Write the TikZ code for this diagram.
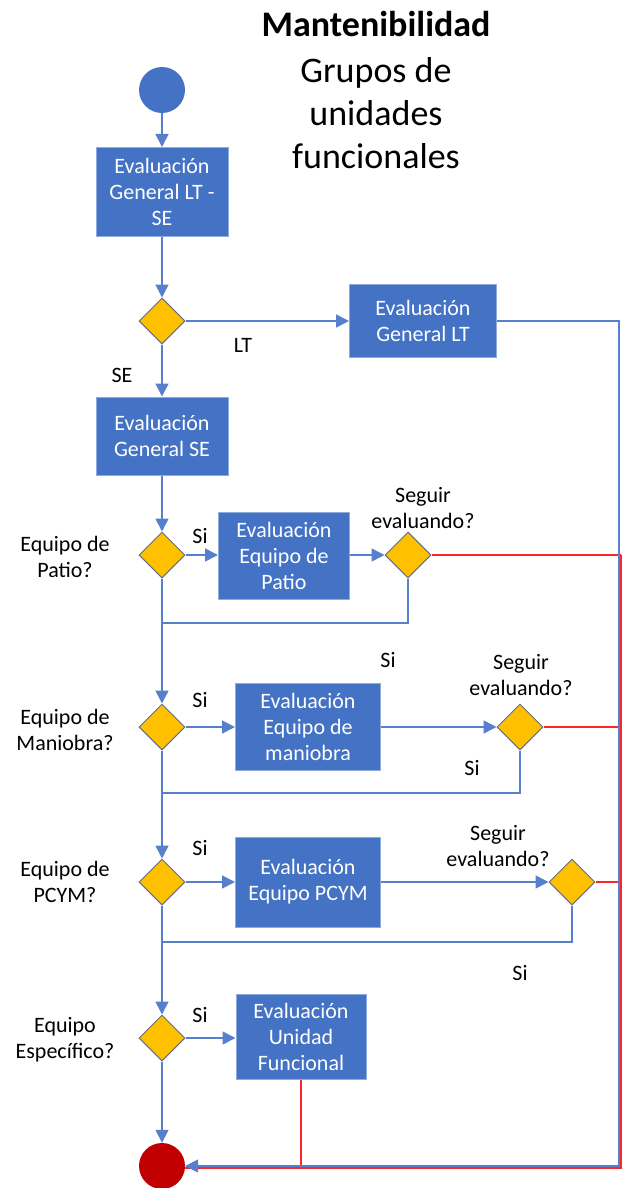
\documentclass[tikz,border=0pt]{standalone}
\usepackage{fontspec}
\setmainfont{Carlito}
\usetikzlibrary{shapes.geometric,arrows.meta}
\definecolor{boxblue}{RGB}{68,114,196}
\definecolor{lineblue}{RGB}{86,128,206}
\definecolor{dgold}{RGB}{255,192,0}
\definecolor{dedge}{RGB}{96,110,140}
\definecolor{endred}{RGB}{192,0,0}
\definecolor{backred}{RGB}{250,40,40}

\begin{document}
\begin{tikzpicture}[x=1pt,y=-1pt,
  evalbox/.style={rectangle,fill=boxblue,draw=boxblue!60!white,line width=1pt,
    text=white,align=center,inner sep=0pt,font=\fontsize{22}{26}\selectfont},
  decision/.style={diamond,aspect=1,fill=dgold,draw=dedge,line width=1pt,
    minimum width=46pt,minimum height=46pt,inner sep=0pt},
  startdot/.style={circle,fill=boxblue,minimum size=46pt,inner sep=0pt},
  enddot/.style={circle,fill=endred,minimum size=46pt,inner sep=0pt},
  lbl/.style={align=center,inner sep=0pt,font=\fontsize{22}{26}\selectfont},
  flow/.style={draw=lineblue,line width=1.6pt,-{Triangle[length=13pt,width=13pt]}},
  retline/.style={draw=lineblue,line width=1.6pt},
  back/.style={draw=backred,line width=1.3pt}]

\useasboundingbox (0,0) rectangle (622,1188);

\node (title) at (376,24) {\fontsize{36}{43}\selectfont\bfseries Mantenibilidad};
\node (sub) [align=center,inner sep=0pt,font=\fontsize{36}{43}\selectfont] at (376,113)
  {Grupos de\\unidades\\funcionales};

\node (start) [startdot] at (162,90) {};
\node (gen) [evalbox,minimum width=132pt,minimum height=89pt] at (162,192)
  {Evaluación\\General LT -\\SE};
\node (d1) [decision] at (162,321) {};
\node (genlt) [evalbox,minimum width=147pt,minimum height=73pt] at (423,321)
  {Evaluación\\General LT};
\node (genSE) [evalbox,minimum width=132pt,minimum height=78pt] at (162,436)
  {Evaluación\\General SE};

\node (d2) [decision] at (162,555) {};
\node (patio) [evalbox,minimum width=131pt,minimum height=87pt] at (284,556)
  {Evaluación\\Equipo de\\Patio};
\node (s1) [decision] at (408,555) {};

\node (d3) [decision] at (162,727) {};
\node (maniobra) [evalbox,minimum width=145pt,minimum height=87pt] at (308,727)
  {Evaluación\\Equipo de\\maniobra};
\node (s2) [decision] at (520,727) {};

\node (d4) [decision] at (162,882) {};
\node (pcym) [evalbox,minimum width=145pt,minimum height=90pt] at (308,882)
  {Evaluación\\Equipo PCYM};
\node (s3) [decision] at (572,882) {};

\node (d5) [decision] at (162,1038) {};
\node (unidad) [evalbox,minimum width=130pt,minimum height=85pt] at (301,1037)
  {Evaluación\\Unidad\\Funcional};

\node (fin) [enddot] at (162,1166) {};

\node (lLT) [lbl] at (243,345) {LT};
\node (lSE) [lbl] at (122,375) {SE};
\node (q1) [lbl] at (65,557) {Equipo de\\Patio?};
\node (q2) [lbl] at (65,730) {Equipo de\\Maniobra?};
\node (q3) [lbl] at (65,882) {Equipo de\\PCYM?};
\node (q4) [lbl] at (65,1040) {Equipo\\Específico?};
\node (si1) [lbl] at (200,536) {Si};
\node (si2) [lbl] at (200,700) {Si};
\node (si3) [lbl] at (200,848) {Si};
\node (si4) [lbl] at (200,1015) {Si};
\node (siA) [lbl] at (388,660) {Si};
\node (siB) [lbl] at (472,768) {Si};
\node (siC) [lbl] at (520,973) {Si};
\node (c1) [lbl] at (423,508) {Seguir\\evaluando?};
\node (c2) [lbl] at (521,675) {Seguir\\evaluando?};
\node (c3) [lbl] at (498,846) {Seguir\\evaluando?};

\coordinate (j1) at (162,623);
\coordinate (j2) at (162,793);
\coordinate (j3) at (162,942);
\coordinate (rtop) at (619,321);
\coordinate (rbot) at (619,1166);
\coordinate (redtop) at (621,555);
\coordinate (redbot) at (621,1168);
\coordinate (redmid) at (301,1168);

\path
(start) edge [flow] (gen)
(gen) edge [flow] (d1)
(d1) edge [flow] (genlt)
(d1) edge [flow] (genSE)
(genSE) edge [flow] (d2)
(d2.east) edge [flow] (d2.east -| patio.west)
(patio.east |- s1.west) edge [flow] (s1.west)
(d2) edge [flow] (d3)
(d3) edge [flow] (maniobra)
(maniobra) edge [flow] (s2)
(d3) edge [flow] (d4)
(d4) edge [flow] (pcym)
(pcym) edge [flow] (s3)
(d4) edge [flow] (d5)
(d5.east) edge [flow] (d5.east -| unidad.west)
(d5) edge [flow] (fin)
;

\draw [retline] (s1.south) |- (j1);
\draw [retline] (s2.south) |- (j2);
\draw [retline] (s3.south) |- (j3);

\draw [back] (s1.east) -- (redtop |- s1.east);
\draw [back] (s2.east) -- (redtop |- s2.east);
\draw [back] (s3.east) -- (redtop |- s3.east);
\draw [back] (unidad.south) -- (redmid);
\draw [back] (redtop) -- (redbot) -- (fin.east |- redbot);

\draw [flow] (genlt.east) -- (rtop) -- (rbot) -- (fin.east);

\end{tikzpicture}
\end{document}
